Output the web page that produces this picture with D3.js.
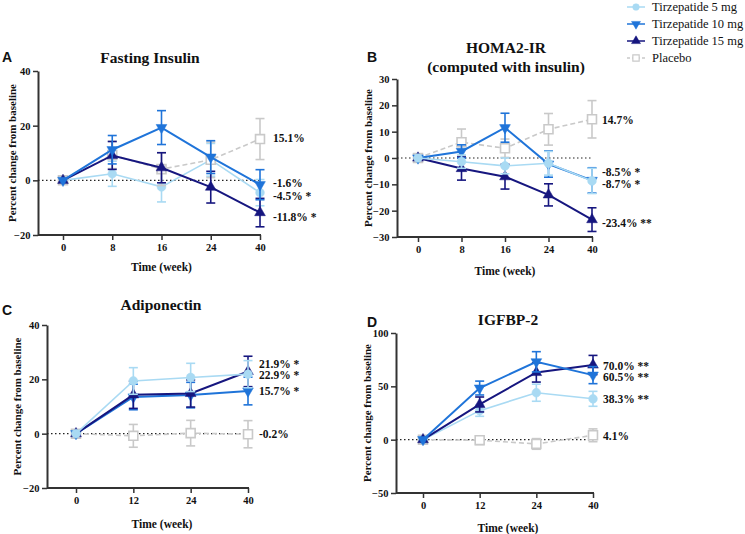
<!DOCTYPE html>
<html>
<head>
<meta charset="utf-8">
<script src="https://cdn.jsdelivr.net/npm/d3@7"></script>
<style>
body { margin: 0; background: #fff; }
svg { display: block; }
text { font-family: "Liberation Serif", "Times New Roman", serif; }
</style>
</head>
<body>
<svg id="chart" width="745" height="534"></svg>
<script>
// ---------- Data ----------
const seriesNames = ["Tirzepatide 5 mg", "Tirzepatide 10 mg", "Tirzepatide 15 mg", "Placebo"];

// Panel A: Fasting Insulin
const weeksA = ["0", "8", "16", "24", "40"];
const insulin5 = [0, 2.4, -2.4, 7.5, -4.5];
const insulin5Err = [0, 4.6, 5.5, 6.0, 4.8];
const insulin10 = [0, 11.2, 19.3, 8.5, -1.6];
const insulin10Err = [0, 5.2, 6.2, 6.0, 5.5];
const insulin15 = [0, 9.1, 4.6, -2.5, -11.8];
const insulin15Err = [0, 5.1, 5.5, 5.8, 5.2];
const insulinPbo = [0, 9.3, 4.1, 7.5, 15.1];
const insulinPboErr = [0, 5.0, 6.0, 6.5, 7.5];
const insulinLabels = ["-4.5% *", "-1.6%", "-11.8% *", "15.1%"];

// Panel B: HOMA2-IR
const weeksB = ["0", "8", "16", "24", "40"];
const homa5 = [0, -1.4, -3.0, -2.0, -8.7];
const homa5Err = [0, 2.5, 3.0, 4.5, 4.8];
const homa10 = [0, 2.5, 11.5, -2.3, -8.5];
const homa10Err = [0, 2.5, 5.5, 5.0, 4.8];
const homa15 = [0, -4.0, -7.1, -14.0, -23.4];
const homa15Err = [0, 4.4, 4.7, 4.2, 4.5];
const homaPbo = [0, 6.0, 3.7, 10.9, 14.7];
const homaPboErr = [0, 5.0, 3.5, 6.0, 7.1];
const homaLabels = ["-8.7% *", "-8.5% *", "-23.4% **", "14.7%"];

// Panel C: Adiponectin
const weeksC = ["0", "12", "24", "40"];
const adipo5 = [0, 19.4, 20.7, 21.9];
const adipo5Err = [0, 4.9, 5.2, 5.0];
const adipo10 = [0, 13.5, 14.2, 15.7];
const adipo10Err = [0, 4.7, 4.7, 5.1];
const adipo15 = [0, 14.3, 14.8, 22.9];
const adipo15Err = [0, 5.0, 5.0, 5.6];
const adipoPbo = [0, -0.8, 0.2, -0.2];
const adipoPboErr = [0, 4.2, 4.7, 5.0];
const adipoLabels = ["21.9% *", "15.7% *", "22.9% *", "-0.2%"];

// Panel D: IGFBP-2
const weeksD = ["0", "12", "24", "40"];
const igf5 = [0, 27.2, 44.0, 38.3];
const igf5Err = [0, 5.3, 8.0, 7.0];
const igf10 = [0, 48.4, 73.0, 60.5];
const igf10Err = [0, 6.5, 9.5, 8.0];
const igf15 = [0, 33.0, 63.0, 70.0];
const igf15Err = [0, 7.0, 9.0, 9.0];
const igfPbo = [0, -0.5, -4.0, 4.1];
const igfPboErr = [0, 4.0, 5.0, 6.0];
const igfLabels = ["38.3% **", "60.5% **", "70.0% **", "4.1%"];

// ---------- Styles ----------
const colors = ["#a9daf3", "#1f74d9", "#16167f", "#c9c9c9"];
const symbols = [d3.symbolCircle, "down", d3.symbolTriangle, d3.symbolSquare];
const lineWidths = [1.6, 2, 2, 1.6];
const dashes = [null, null, null, "5,3"];

const svg = d3.select("#chart");

function markerPath(i, size) {
  if (symbols[i] === "down") {
    return d3.symbol(d3.symbolTriangle, size)();
  }
  return d3.symbol(symbols[i], size)();
}

function drawPanel(cfg) {
  const g = svg.append("g");
  const x = d3.scalePoint().domain(cfg.cats).range([cfg.x0, cfg.x1]).padding(0);
  const y = d3.scaleLinear().domain(cfg.yDomain).range([cfg.yBottom, cfg.yTop]);

  // Y axis
  const yAxis = d3.axisLeft(y).tickValues(cfg.yTicks).tickSize(5).tickSizeOuter(0).tickPadding(2.5);
  const ya = g.append("g").attr("transform", `translate(${cfg.axisX},0)`).call(yAxis);
  ya.select(".domain").attr("stroke", "#333").attr("stroke-width", 2);
  ya.selectAll(".tick line").attr("stroke", "#333").attr("stroke-width", 1.5);
  ya.selectAll(".tick text").style("font-family", "Liberation Serif").style("font-weight", "bold")
    .style("font-size", "10.5px").attr("fill", "#111");

  // X axis
  const xAxis = d3.axisBottom(x).tickSize(5).tickSizeOuter(0).tickPadding(4);
  const xa = g.append("g").attr("transform", `translate(0,${cfg.yBottom})`).call(xAxis);
  xa.select(".domain").remove();
  xa.append("line").attr("x1", cfg.axisX).attr("x2", cfg.x1 + 1).attr("y1", 0).attr("y2", 0)
    .attr("stroke", "#333").attr("stroke-width", 2);
  xa.selectAll(".tick line").attr("stroke", "#333").attr("stroke-width", 1.5);
  xa.selectAll(".tick text").style("font-family", "Liberation Serif").style("font-weight", "bold")
    .style("font-size", "10.5px").attr("fill", "#111");

  // zero line
  g.append("line").attr("x1", cfg.axisX).attr("x2", cfg.x1).attr("y1", y(0)).attr("y2", y(0))
    .attr("stroke", "#222").attr("stroke-width", 1.2).attr("stroke-dasharray", "1.5,2.5");

  // titles
  cfg.title.forEach((t, k) => {
    g.append("text").attr("x", cfg.titleX).attr("y", cfg.titleY + k * 19).attr("text-anchor", "middle")
      .style("font-weight", "bold").style("font-size", "15.5px").attr("fill", "#111").text(t);
  });
  g.append("text").attr("x", cfg.letterX).attr("y", cfg.letterY)
    .style("font-family", "Liberation Sans, Arial, sans-serif").style("font-weight", "bold")
    .style("font-size", "14px").attr("fill", "#111").text(cfg.letter);

  // y title
  g.append("text").attr("transform", `translate(${cfg.yTitleX},${(cfg.yTop + cfg.yBottom) / 2}) rotate(-90)`)
    .attr("text-anchor", "middle").style("font-weight", "bold").style("font-size", "11px").attr("fill", "#111")
    .text("Percent change from baseline");
  // x title
  g.append("text").attr("x", (x(cfg.cats[0]) + cfg.x1) / 2).attr("y", cfg.xTitleY).attr("text-anchor", "middle")
    .style("font-weight", "bold").style("font-size", "11.5px").attr("fill", "#111").text("Time (week)");

  // series
  cfg.order.forEach(i => {
    const vals = cfg.values[i], errs = cfg.errors[i];
    const pts = cfg.cats.map((c, j) => ({ c, v: vals[j], e: errs[j] }));
    const sg = g.append("g");
    pts.forEach(p => {
      if (p.e <= 0) return;
      const xx = x(p.c);
      sg.append("line").attr("x1", xx).attr("x2", xx).attr("y1", y(p.v - p.e)).attr("y2", y(p.v + p.e))
        .attr("stroke", colors[i]).attr("stroke-width", 1.6);
      [p.v - p.e, p.v + p.e].forEach(ev => {
        sg.append("line").attr("x1", xx - 4.5).attr("x2", xx + 4.5).attr("y1", y(ev)).attr("y2", y(ev))
          .attr("stroke", colors[i]).attr("stroke-width", 1.6);
      });
    });
    sg.append("path").datum(pts)
      .attr("d", d3.line().x(p => x(p.c)).y(p => y(p.v)))
      .attr("fill", "none").attr("stroke", colors[i]).attr("stroke-width", lineWidths[i])
      .attr("stroke-dasharray", dashes[i]);
    pts.forEach(p => {
      const rot = symbols[i] === "down" ? " rotate(180)" : "";
      const isSq = i === 3;
      sg.append("path").attr("d", markerPath(i, isSq ? 80 : (i === 0 ? 60 : 50)))
        .attr("transform", `translate(${x(p.c)},${y(p.v)})${rot}`)
        .attr("fill", isSq ? "#fff" : colors[i])
        .attr("stroke", colors[i]).attr("stroke-width", isSq ? 1.6 : 0.5);
    });
  });

  // end labels
  cfg.labels.forEach((t, k) => {
    g.append("text").attr("x", cfg.labelX).attr("y", cfg.labelY[k]).attr("dy", "0.35em")
      .style("font-weight", "bold").style("font-size", "11.5px").attr("fill", "#111").text(t);
  });
}

drawPanel({
  cats: weeksA, axisX: 38, x0: 63, x1: 260, yTop: 71, yBottom: 235,
  yDomain: [-20, 40], yTicks: [-20, 0, 20, 40],
  values: [insulin5, insulin10, insulin15, insulinPbo],
  errors: [insulin5Err, insulin10Err, insulin15Err, insulinPboErr],
  order: [0, 3, 2, 1],
  title: ["Fasting Insulin"], titleX: 150, titleY: 63, letter: "A", letterX: 2, letterY: 62,
  yTitleX: 16, xTitleY: 271,
  labels: insulinLabels, labelX: 273, labelY: [196, 183, 217, 138]
});

drawPanel({
  cats: weeksB, axisX: 397, x0: 418, x1: 592, yTop: 79, yBottom: 237,
  yDomain: [-30, 30], yTicks: [-30, -20, -10, 0, 10, 20, 30],
  values: [homa5, homa10, homa15, homaPbo],
  errors: [homa5Err, homa10Err, homa15Err, homaPboErr],
  order: [3, 2, 1, 0],
  title: ["HOMA2-IR", "(computed with insulin)"], titleX: 506, titleY: 53, letter: "B", letterX: 367, letterY: 62,
  yTitleX: 372, xTitleY: 275,
  labels: homaLabels, labelX: 602, labelY: [184, 172, 223, 120]
});

drawPanel({
  cats: weeksC, axisX: 47, x0: 76, x1: 248, yTop: 325, yBottom: 488,
  yDomain: [-20, 40], yTicks: [-20, 0, 20, 40],
  values: [adipo5, adipo10, adipo15, adipoPbo],
  errors: [adipo5Err, adipo10Err, adipo15Err, adipoPboErr],
  order: [3, 1, 2, 0],
  title: ["Adiponectin"], titleX: 161, titleY: 310, letter: "C", letterX: 2, letterY: 315,
  yTitleX: 21, xTitleY: 528,
  labels: adipoLabels, labelX: 259, labelY: [364, 391, 375, 434]
});

drawPanel({
  cats: weeksD, axisX: 396, x0: 423, x1: 593, yTop: 333, yBottom: 493,
  yDomain: [-50, 100], yTicks: [-50, 0, 50, 100],
  values: [igf5, igf10, igf15, igfPbo],
  errors: [igf5Err, igf10Err, igf15Err, igfPboErr],
  order: [3, 0, 2, 1],
  title: ["IGFBP-2"], titleX: 508, titleY: 325, letter: "D", letterX: 367, letterY: 327,
  yTitleX: 371, xTitleY: 532,
  labels: igfLabels, labelX: 603, labelY: [399, 377, 366, 436]
});

// ---------- Legend ----------
const legend = svg.append("g");
seriesNames.forEach((name, i) => {
  const ly = 7 + i * 17;
  const lx = 636;
  legend.append("line").attr("x1", lx - 9).attr("x2", lx + 9).attr("y1", ly).attr("y2", ly)
    .attr("stroke", colors[i]).attr("stroke-width", 1.5).attr("stroke-dasharray", dashes[i] ? "3,2" : null);
  const rot = symbols[i] === "down" ? " rotate(180)" : "";
  legend.append("path").attr("d", markerPath(i, i === 3 ? 40 : 35))
    .attr("transform", `translate(${lx},${ly})${rot}`)
    .attr("fill", i === 3 ? "#fff" : colors[i]).attr("stroke", colors[i]).attr("stroke-width", i === 3 ? 1.2 : 0.5);
  legend.append("text").attr("x", 652).attr("y", ly).attr("dy", "0.35em")
    .style("font-size", "12.5px").attr("fill", "#111").text(name);
});
</script>
</body>
</html>
